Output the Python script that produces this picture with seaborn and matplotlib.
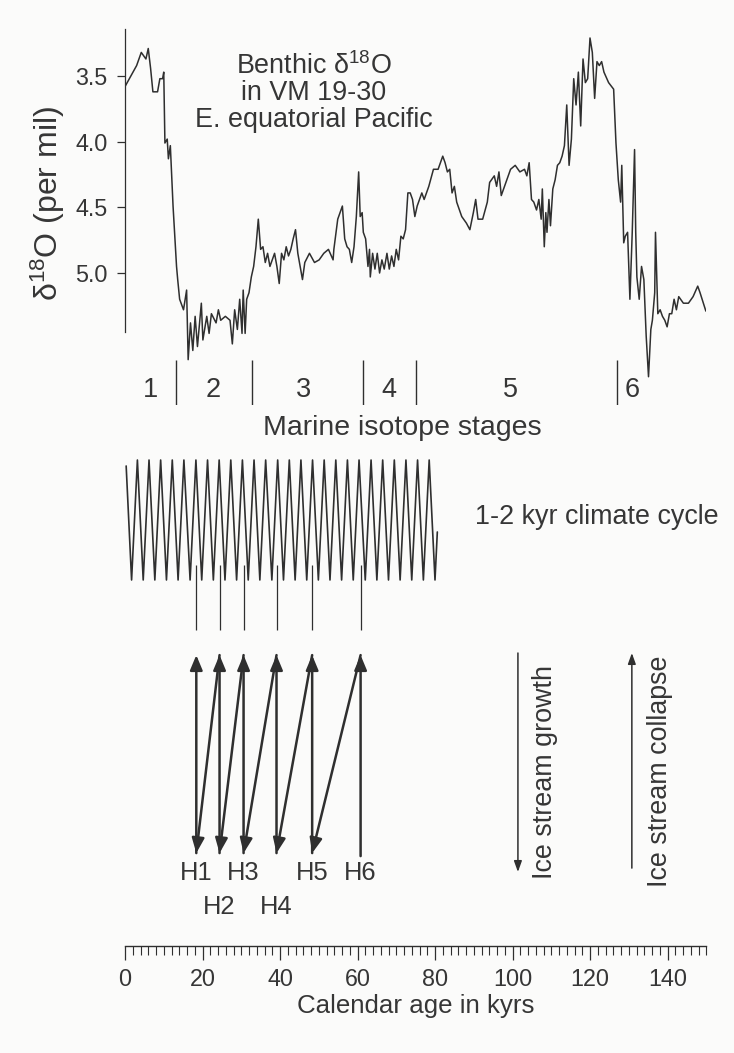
import matplotlib
matplotlib.use("Agg")
import matplotlib.pyplot as plt
import seaborn as sns
import pandas as pd

# ---------------- data ----------------
age_kyr = [0.0, 3.0, 4.2, 5.4, 6.0, 6.6, 7.2, 8.4, 9.0, 9.7,
           10.0, 10.3, 10.9, 11.2, 11.7, 12.1, 12.4, 12.7, 13.3, 13.6,
           14.1, 15.1, 15.9, 16.3, 16.9, 17.5, 18.1, 18.7, 19.7, 20.1,
           21.1, 21.7, 22.3, 23.5, 24.1, 24.7, 25.9, 27.1, 27.7, 28.3,
           29.0, 29.6, 30.2, 30.5, 31.0, 31.4, 32.0, 32.6, 33.2, 33.8,
           34.4, 35.0, 35.6, 36.2, 36.8, 37.4, 38.0, 38.6, 39.2, 39.8,
           40.4, 41.0, 41.6, 42.2, 42.8, 43.4, 44.0, 44.6, 45.2, 45.8,
           46.4, 47.6, 48.9, 50.1, 51.3, 52.5, 53.7, 53.9, 54.9, 55.5,
           56.1, 56.7, 57.3, 57.9, 58.5, 59.1, 59.7, 60.3, 60.7, 61.2,
           61.5, 62.1, 62.7, 63.1, 63.3, 63.9, 64.5, 65.1, 65.7, 66.3,
           66.9, 67.6, 68.2, 68.8, 69.4, 70.0, 70.6, 71.2, 71.8, 72.4,
           73.0, 73.6, 74.2, 74.8, 75.4, 76.6, 77.2, 78.4, 79.6, 80.8,
           82.0, 82.6, 83.2, 83.8, 84.4, 85.0, 85.6, 86.9, 88.1, 89.0,
           89.9, 90.5, 91.1, 92.3, 93.5, 94.1, 95.3, 95.9, 96.5, 97.1,
           98.3, 99.5, 100.7, 101.9, 103.1, 103.7, 104.3, 104.9, 105.5, 106.2,
           106.8, 107.4, 107.7, 108.2, 108.6, 108.9, 109.4, 109.8, 110.4, 111.0,
           111.6, 112.2, 112.8, 113.4, 114.0, 114.6, 115.2, 115.8, 116.4, 117.0,
           117.6, 118.2, 118.8, 119.4, 120.0, 120.6, 121.2, 121.8, 122.4, 123.0,
           123.6, 124.8, 126.1, 126.7, 127.3, 127.9, 128.2, 128.7, 129.1, 129.7,
           130.3, 130.9, 131.5, 131.8, 132.1, 132.7, 133.3, 133.9, 134.5, 135.1,
           135.7, 136.1, 136.7, 136.9, 137.5, 138.1, 138.7, 139.3, 139.9, 140.5,
           141.1, 141.7, 142.3, 142.9, 144.1, 145.4, 146.6, 147.8, 148.4, 149.9]

d18o = [3.58, 3.42, 3.32, 3.37, 3.29, 3.44, 3.62, 3.62, 3.52, 3.52,
        3.47, 4.01, 3.98, 4.13, 4.03, 4.29, 4.49, 4.64, 4.95, 5.05,
        5.20, 5.28, 5.13, 5.66, 5.38, 5.59, 5.33, 5.56, 5.23, 5.51,
        5.33, 5.46, 5.31, 5.38, 5.28, 5.36, 5.33, 5.36, 5.54, 5.28,
        5.43, 5.20, 5.46, 5.13, 5.46, 5.20, 5.15, 5.03, 4.95, 4.80,
        4.59, 4.82, 4.80, 4.92, 4.85, 4.95, 4.90, 4.85, 4.95, 5.08,
        4.85, 4.90, 4.80, 4.87, 4.82, 4.74, 4.67, 4.85, 4.95, 5.05,
        4.92, 4.85, 4.92, 4.90, 4.85, 4.82, 4.90, 4.82, 4.59, 4.54,
        4.49, 4.74, 4.80, 4.82, 4.92, 4.80, 4.57, 4.23, 4.57, 4.54,
        4.69, 4.74, 4.95, 4.82, 5.03, 4.85, 4.97, 4.85, 5.00, 4.90,
        4.97, 4.85, 4.97, 4.87, 4.95, 4.82, 4.90, 4.72, 4.74, 4.67,
        4.39, 4.39, 4.44, 4.57, 4.49, 4.39, 4.44, 4.34, 4.21, 4.21,
        4.11, 4.16, 4.23, 4.21, 4.39, 4.34, 4.46, 4.57, 4.62, 4.67,
        4.54, 4.44, 4.59, 4.59, 4.46, 4.31, 4.26, 4.34, 4.23, 4.41,
        4.31, 4.21, 4.18, 4.23, 4.21, 4.26, 4.16, 4.44, 4.46, 4.52,
        4.44, 4.59, 4.36, 4.80, 4.54, 4.69, 4.44, 4.64, 4.36, 4.29,
        4.18, 4.16, 4.11, 4.03, 3.72, 4.18, 3.98, 3.52, 3.72, 3.47,
        3.88, 3.37, 3.55, 3.52, 3.21, 3.32, 3.67, 3.39, 3.42, 3.39,
        3.47, 3.55, 3.60, 4.01, 4.29, 4.46, 4.18, 4.77, 4.72, 4.69,
        5.20, 4.69, 4.06, 4.69, 5.03, 5.20, 4.95, 5.05, 5.48, 5.79,
        5.43, 5.36, 5.15, 4.69, 5.31, 5.28, 5.33, 5.36, 5.41, 5.31,
        5.31, 5.20, 5.28, 5.18, 5.23, 5.23, 5.18, 5.10, 5.15, 5.29]

d18o_ticks = [3.5, 4.0, 4.5, 5.0]
d18o_ticklabels = ["3.5", "4.0", "4.5", "5.0"]

stage_boundaries = [13.1, 32.9, 61.5, 75.0, 127.0]
stage_names = ["1", "2", "3", "4", "5", "6"]
stage_label_ages = [6.7, 22.7, 46.1, 68.0, 99.4, 130.8]

cycle_peaks = [3.2, 6.2, 9.2, 12.2, 15.2, 18.3, 21.3, 24.3, 27.3, 30.3, 33.3, 36.3, 39.4,
               42.4, 45.4, 48.4, 51.4, 54.4, 57.4, 60.4, 63.5, 66.5, 69.5, 72.5, 75.5, 78.5]
cycle_troughs = [1.7, 4.7, 7.7, 10.7, 13.7, 16.8, 19.8, 22.8, 25.8, 28.8, 31.8, 34.8, 37.9,
                 40.9, 43.9, 46.9, 49.9, 52.9, 55.9, 58.9, 62.0, 65.0, 68.0, 71.0, 74.0, 77.0, 80.0]
cycle_start = (0.3, 0.9)
cycle_end = (80.6, -0.2)

heinrich_names = ["H1", "H2", "H3", "H4", "H5", "H6"]
heinrich_ages = [18.4, 24.4, 30.6, 39.1, 48.3, 60.8]
heinrich_label_row = [0, 1, 0, 1, 0, 0]

age_ticks = [0, 20, 40, 60, 80, 100, 120, 140]
age_minor_ticks = list(range(0, 151, 2))

# ---------------- style ----------------
sns.set_theme(style="white")
plt.rcParams["font.family"] = ["Liberation Sans", "DejaVu Sans"]
plt.rcParams["mathtext.fontset"] = "custom"
plt.rcParams["mathtext.rm"] = "Liberation Sans"
plt.rcParams["mathtext.it"] = "Liberation Sans:italic"
plt.rcParams["mathtext.default"] = "regular"

INK = "#2f2f2f"
TXT = "#363636"
BG = "#fbfbfa"

W, H = 734, 1053
fig = plt.figure(figsize=(W / 100, H / 100), dpi=100, facecolor=BG)

X0, XW = 125, 581.25


def box(top, bottom):
    return [X0 / W, 1 - bottom / H, XW / W, (bottom - top) / H]


def ftext(px, py, s, **kw):
    kw.setdefault("color", TXT)
    return fig.text(px / W, 1 - py / H, s, **kw)


def clean(ax):
    ax.set_facecolor("none")
    for sp in ax.spines.values():
        sp.set_visible(False)
    ax.set_xticks([])
    ax.set_yticks([])
    ax.set_xlabel("")
    ax.set_ylabel("")
    ax.set_xlim(0, 150)


# ---------- top: benthic d18O ----------
ax_top = fig.add_axes(box(20, 385))
df = pd.DataFrame({"age": age_kyr, "d18o": d18o})
sns.lineplot(data=df, x="age", y="d18o", ax=ax_top, color=INK, linewidth=1.1,
             estimator=None, sort=True)
clean(ax_top)
ax_top.set_ylim(5.853, 3.073)
ax_top.spines["left"].set_visible(True)
ax_top.spines["left"].set_bounds(3.142, 5.449)
ax_top.spines["left"].set_color(INK)
ax_top.spines["left"].set_linewidth(0.9)
ax_top.set_yticks(d18o_ticks)
ax_top.set_yticklabels(d18o_ticklabels)
ax_top.tick_params(axis="y", direction="out", length=5.5, width=0.9, color=INK,
                   labelsize=16.8, labelcolor=TXT, pad=7, left=True)

ftext(48, 203, "δ$^{18}$O (per mil)", rotation=90, ha="center", va="center", fontsize=23)
ftext(314, 66, "Benthic δ$^{18}$O", ha="center", va="center", fontsize=19.4)
ftext(314, 93, "in VM 19-30", ha="center", va="center", fontsize=19.4)
ftext(314, 120, "E. equatorial Pacific", ha="center", va="center", fontsize=19.4)

# ---------- stages ----------
ax_st = fig.add_axes(box(360, 405))
clean(ax_st)
ax_st.set_ylim(0, 1)
ax_st.vlines(stage_boundaries, 0, 1, color=INK, linewidth=1.0)
for nm, a in zip(stage_names, stage_label_ages):
    ax_st.text(a, 0.34, nm, ha="center", va="center", fontsize=19.5, color=TXT)
ftext(402, 428, "Marine isotope stages", ha="center", va="center", fontsize=20.5)

# ---------- climate cycle ----------
ax_w = fig.add_axes(box(460, 580))
clean(ax_w)
pts = sorted([(a, 1.0) for a in cycle_peaks] + [(a, -1.0) for a in cycle_troughs])
pts = [cycle_start] + pts + [cycle_end]
wdf = pd.DataFrame(pts, columns=["age", "level"])
sns.lineplot(data=wdf, x="age", y="level", ax=ax_w, color=INK, linewidth=1.2,
             estimator=None, sort=False)
clean(ax_w)
ax_w.set_ylim(-1, 1)
for ln in ax_w.lines:
    ln.set_clip_on(False)
    ln.set_solid_joinstyle("round")
ftext(597, 517, "1-2 kyr climate cycle", ha="center", va="center", fontsize=19.4)

# ---------- Heinrich sawtooth ----------
ax_s = fig.add_axes(box(560, 860))
clean(ax_s)
ax_s.set_ylim(0, 1)
ax_s.vlines(heinrich_ages, 0.767, 0.983, color=INK, linewidth=0.9)

TOP, BOT = 0.683, 0.023
big = dict(arrowstyle="-|>,head_length=0.6,head_width=0.25", mutation_scale=15,
           lw=1.8, color=INK, shrinkA=0, shrinkB=0)
for i, a in enumerate(heinrich_ages):
    start_y = BOT if i < len(heinrich_ages) - 1 else 0.013
    ax_s.annotate("", xy=(a, TOP), xytext=(a, start_y), arrowprops=big,
                  annotation_clip=False)
    if i > 0:
        ax_s.annotate("", xy=(heinrich_ages[i - 1], BOT), xytext=(a, TOP),
                      arrowprops=big, annotation_clip=False)

for nm, a, row in zip(heinrich_names, heinrich_ages, heinrich_label_row):
    yy = -0.043 if row == 0 else -0.157
    ax_s.text(a, yy, nm, ha="center", va="center", fontsize=18.4, color=TXT)

small = dict(arrowstyle="-|>,head_length=0.5,head_width=0.18", mutation_scale=13,
             lw=1.1, color=INK, shrinkA=0, shrinkB=0)
ax_s.annotate("", xy=(101.4, -0.04), xytext=(101.4, 0.69), arrowprops=small,
              annotation_clip=False)
ax_s.annotate("", xy=(130.8, 0.69), xytext=(130.8, -0.027), arrowprops=small,
              annotation_clip=False)
ftext(545, 772, "Ice stream growth", rotation=90, ha="center", va="center", fontsize=19.4)
ftext(660, 771, "Ice stream collapse", rotation=90, ha="center", va="center", fontsize=19.4)

# ---------- calendar age ruler ----------
ax_r = fig.add_axes(box(900, 946))
clean(ax_r)
ax_r.set_ylim(0, 1)
ax_r.spines["bottom"].set_visible(True)
ax_r.spines["bottom"].set_bounds(0, 150)
ax_r.spines["bottom"].set_color(INK)
ax_r.spines["bottom"].set_linewidth(1.0)
ax_r.set_xticks(age_ticks)
ax_r.set_xticklabels([str(t) for t in age_ticks])
ax_r.set_xticks(age_minor_ticks, minor=True)
ax_r.tick_params(axis="x", which="major", direction="out", length=10, width=0.9,
                 color=INK, labelsize=16.8, labelcolor=TXT, pad=6, bottom=True)
ax_r.tick_params(axis="x", which="minor", direction="out", length=6.5, width=0.8,
                 color=INK, bottom=True)
ax_r.set_xlabel("Calendar age in kyrs", fontsize=18.6, color=TXT, labelpad=2)

fig.savefig("out.png", dpi=100, facecolor=BG)
